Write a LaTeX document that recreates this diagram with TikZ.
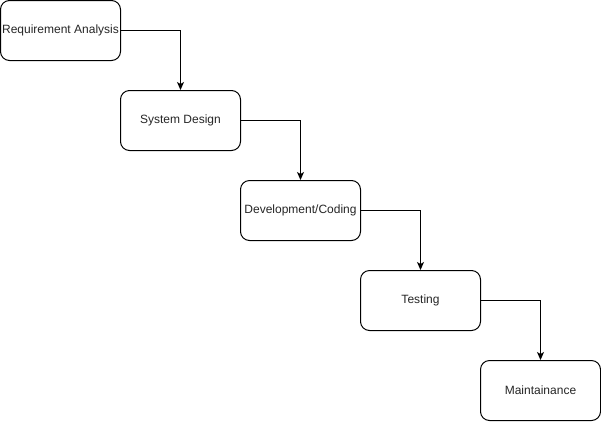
\documentclass[tikz,border=0pt]{standalone}
\usepackage{fontspec}
\setmainfont{Liberation Sans}
\usetikzlibrary{arrows.meta}
\begin{document}
\begin{tikzpicture}[x=1pt,y=-1pt,
  stepbox/.style={draw=black,line width=1pt,rounded corners=9pt,minimum width=120pt,minimum height=60pt,inner sep=0pt,font=\fontsize{12pt}{14pt}\selectfont,text=black!85},
  conn/.style={draw=black,line width=1pt,-{Stealth[length=8pt,width=7pt,inset=2pt]}}]
\useasboundingbox (0,0) rectangle (601,421);
\fill[white] (0,0) rectangle (601,421);
\node[stepbox] (a) at (60.5,30.5) {Requirement Analysis};
\node[stepbox] (b) at (180.5,120.5) {System Design};
\node[stepbox] (c) at (300.5,210.5) {Development/Coding};
\node[stepbox] (d) at (420.5,300.5) {Testing};
\node[stepbox] (e) at (540.5,390.5) {Maintainance};
\draw[conn] (a.east) -| (b.north);
\draw[conn] (b.east) -| (c.north);
\draw[conn] (c.east) -| (d.north);
\draw[conn] (d.east) -| (e.north);
\end{tikzpicture}
\end{document}
